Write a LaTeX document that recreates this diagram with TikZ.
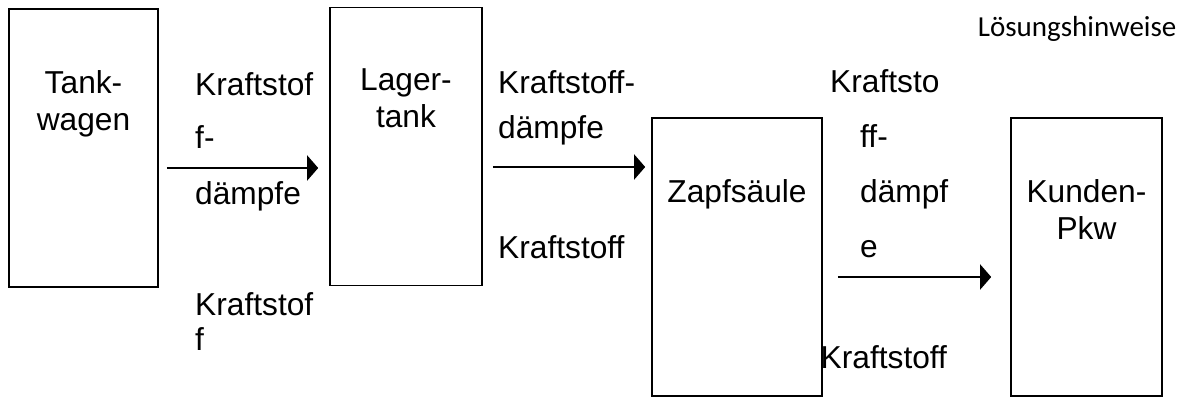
\documentclass[tikz,border=0pt]{standalone}
\usepackage{fontspec}
\setmainfont{Liberation Sans}
\newfontfamily\hintfont{Carlito}
\usetikzlibrary{arrows.meta}

\begin{document}
\begin{tikzpicture}[x=1pt, y=1pt,
    stage/.style={draw, line width=1.6pt, minimum height=278pt, inner sep=0pt},
    stagetext/.style={font=\fontsize{31.7}{37}\selectfont, align=center, anchor=north, inner sep=0pt},
    flowtext/.style={font=\fontsize{31.7}{37}\selectfont, align=left, anchor=north west, inner sep=0pt},
    flow/.style={-{Triangle[length=11pt, width=25pt]}, line width=1.5pt}]

    \useasboundingbox (0,0) rectangle (1193,-401);

    \node[stage, minimum width=149pt] (tw) at (83.5,-148) {};
    \node[stage, minimum width=152pt] (lt) at (406,-146.5) {};
    \node[stage, minimum width=170pt] (zs) at (737,-257) {};
    \node[stage, minimum width=151pt] (kp) at (1086.5,-257) {};

    \node[stagetext] (tw-t) at ([yshift=-62pt]tw.north) {Tank-\\wagen};
    \node[stagetext] (lt-t) at ([yshift=-62pt]lt.north) {Lager-\\tank};
    \node[stagetext] (zs-t) at ([yshift=-62pt]zs.north) {Zapfsäule};
    \node[stagetext] (kp-t) at ([yshift=-62pt]kp.north) {Kunden-\\Pkw};

    \node[flowtext] (d1) at (195,-72) {Kraftstof\\[16pt]f-\\[19pt]dämpfe};
    \node[flowtext] (k1) at (195,-292) {Kraftstof\\[-2pt]f};
    \node[flowtext] (d2) at (498,-70) {Kraftstoff-\\[8pt]dämpfe};
    \node[flowtext] (k2) at (498,-235) {Kraftstoff};
    \node[flowtext] (d3) at (830,-69)
      {Kraftsto\\[18pt]\hspace*{30pt}ff-\\[18pt]\hspace*{30pt}dämpf\\[18pt]\hspace*{30pt}e};
    \node[flowtext] (k3) at (820.5,-345) {Kraftstoff};

    \node[anchor=base west, inner sep=0pt, font=\hintfont\fontsize{29}{35}\selectfont]
      (hint) at (977.7,-37) {Lösungshinweise};

    \draw[flow, shorten <=8pt, shorten >=11pt]
      ([yshift=-20pt]tw.east) -- ([yshift=-20pt]tw.east -| lt.west);
    \draw[flow, shorten <=10pt, shorten >=6pt]
      ([yshift=-20.5pt]lt.east) -- ([yshift=-20.5pt]lt.east -| zs.west);
    \draw[flow, shorten <=15pt, shorten >=19pt]
      ([yshift=-20pt]zs.east) -- ([yshift=-20pt]zs.east -| kp.west);
\end{tikzpicture}
\end{document}
